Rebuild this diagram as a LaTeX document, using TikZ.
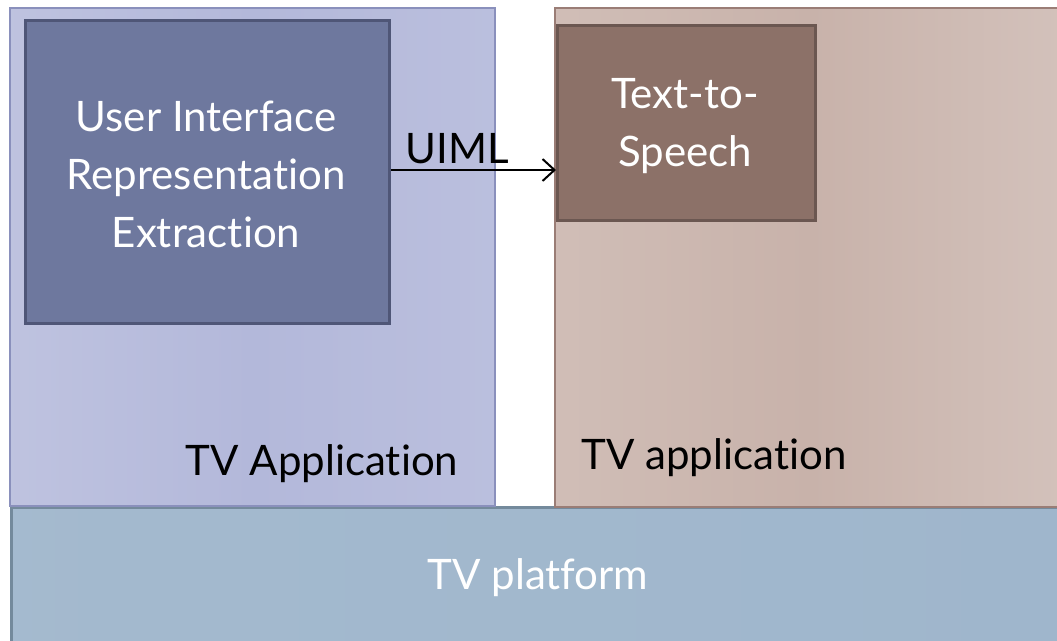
\documentclass[tikz,border=0pt]{standalone}
\usepackage{fontspec}
\setmainfont{Lato}[Ligatures={NoCommon,NoRequired,NoContextual}]
\usetikzlibrary{arrows.meta}
\definecolor{appL}{HTML}{B3B8DA}
\definecolor{appLb}{HTML}{8A90BC}
\definecolor{uiF}{HTML}{6E789E}
\definecolor{uiB}{HTML}{4F5677}
\definecolor{appR}{HTML}{C8B2AA}
\definecolor{appRb}{HTML}{9A7D76}
\definecolor{ttsF}{HTML}{8C7168}
\definecolor{ttsB}{HTML}{6B5751}
\definecolor{platF}{HTML}{9FB6CC}
\definecolor{platB}{HTML}{748A9C}
\tikzset{
  box/.style={draw, line width=#1, inner sep=0pt, anchor=north west},
  big/.style={font=\fontsize{42}{58}\selectfont, align=center},
}
\begin{document}
\begin{tikzpicture}[x=1pt,y=-1pt]
\useasboundingbox (0,0) rectangle (1057,640);
\begin{scope}
\clip (0,0) rectangle (1057,640);
% platform
\node[box=3pt, draw=platB, left color=platF!95!white, right color=platF, minimum width=1060pt, minimum height=140pt] (plat) at (10,506) {};
% left app
\node[box=1.5pt, draw=appLb, left color=appL!85!white, right color=appL!90!white, middle color=appL, minimum width=485pt, minimum height=498pt] (appl) at (9,7) {};
% right app
\node[box=2pt, draw=appRb, left color=appR!85!white, right color=appR!80!white, middle color=appR, minimum width=510pt, minimum height=499pt] (appr) at (554,7) {};
% inner boxes
\node[box=3pt, draw=uiB, fill=uiF, minimum width=364pt, minimum height=303pt] (ui) at (24,19) {};
\node[box=3pt, draw=ttsB, fill=ttsF, minimum width=258pt, minimum height=195pt] (tts) at (556,24) {};
\end{scope}
% texts
\node[big, text=white] (uit) at (206,174) {User Interface\\Representation\\Extraction};
\node[big, text=white] (ttst) at (685,126) {Text-to-\\Speech};
\node[big, text=black] (appLt) at (322,464) {TV Application};
\node[big, text=black] (appRt) at (714,458) {TV application};
\node[big, text=white] (platt) at (538,578) {TV platform};
% arrow
\draw[line width=2.2pt, -{Straight Barb[length=12pt,width=22pt,line width=2pt]}] (ui.east |- 0,170) -- (tts.west |- 0,170) node[pos=0.4, above=2pt, font=\fontsize{42}{46}\selectfont, text=black] (uiml) {UIML};
\end{tikzpicture}
\end{document}
